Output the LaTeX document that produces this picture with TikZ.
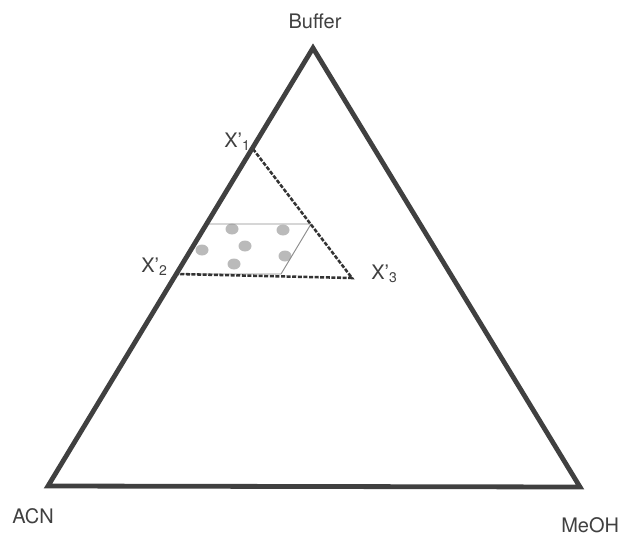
\documentclass[tikz,border=0pt]{standalone}
\usepackage{fontspec}
\setmainfont{TeX Gyre Heros}
\usetikzlibrary{positioning}
\tikzset{
    side/.style={draw, line width=3.6pt, line join=miter, color=black!75}, % outer triangle
    bound/.style={draw, line width=1.9pt, dash pattern=on 3pt off 1.2pt, color=black!80},
    para/.style={draw, line width=0.7pt, color=black!45},
    spot/.style={fill=black!27},
    lbl/.style={font=\fontsize{15}{18}\selectfont, text=black!75, inner sep=0pt}
}

\begin{document}
\begin{tikzpicture}[x=0.75pt,y=-0.75pt]
	\useasboundingbox (0,0) rectangle (624,535);
	\coordinate (buf) at (313,48);
	\coordinate (acn) at (48,486);
	\coordinate (meoh) at (580,487);
	\coordinate (x1) at (253,149);
	\coordinate (x2) at (177,274);
	\coordinate (x3) at (352,278);
	\coordinate (p1) at (208,224);
	\coordinate (p2) at (311,224);
	\coordinate (p3) at (281,274);

	\node (tbuf) [lbl, anchor=base] at (315,29) {Buffer};
	\node (tacn) [lbl, anchor=base west] at (12,523) {ACN};
	\node (tmeoh) [lbl, anchor=base west] at (561,532) {MeOH};
	\node (tx1) [lbl, anchor=base west] at (224,147) {X’\textsubscript{1}};
	\node (tx2) [lbl, anchor=base west] at (141,272) {X’\textsubscript{2}};
	\node (tx3) [lbl, anchor=base west] at (371,279) {X’\textsubscript{3}};

	% sample spots
	\fill[spot] (232,229) ellipse (6.5 and 5.5);
	\fill[spot] (283,230) ellipse (6.5 and 5.5);
	\fill[spot] (245,246) ellipse (6.5 and 5.5);
	\fill[spot] (202,250) ellipse (6.5 and 5.5);
	\fill[spot] (285,256) ellipse (6.5 and 5.5);
	\fill[spot] (234,264) ellipse (6.5 and 5.5);

	\draw[para] (p1) -- (p2) -- (p3) -- (x2);
	\draw[bound] (x1) -- (x3) -- (x2);
	\draw[side] (buf) -- (meoh) -- (acn) -- cycle;
\end{tikzpicture}
\end{document}
